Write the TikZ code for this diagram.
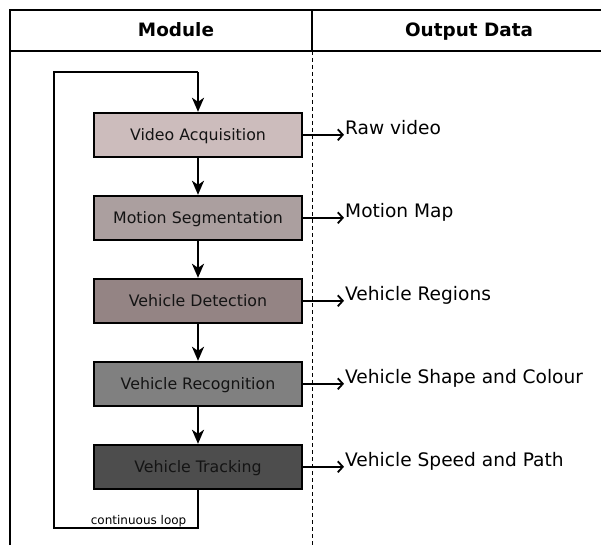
\documentclass[tikz,border=0pt]{standalone}
\usepackage{fontspec}
\setmainfont{DejaVu Sans}
\usetikzlibrary{arrows.meta}
\definecolor{fillA}{HTML}{CCBCBC}
\definecolor{fillB}{HTML}{AB9F9F}
\definecolor{fillC}{HTML}{948484}
\definecolor{fillD}{HTML}{808080}
\definecolor{fillE}{HTML}{4D4D4D}
\tikzset{
  module/.style={draw=black, line width=2pt, minimum width=208pt, minimum height=44pt,
    inner sep=0pt, text height=11.5pt, text depth=0pt,
    font=\fontsize{15.8}{18}\selectfont, text=black!92},
  flow/.style={line width=2pt, -{Stealth[length=14pt,width=12pt,inset=4pt]}},
  outarrow/.style={line width=1.8pt, -{Straight Barb[length=5pt,width=11pt]}},
  outlabel/.style={anchor=base west, inner sep=0pt, font=\fontsize{18.6}{22}\selectfont},
  header/.style={anchor=base, inner sep=0pt, font=\fontsize{18.4}{22}\selectfont\bfseries},
  frame/.style={line width=1.5pt},
}
\begin{document}
\begin{tikzpicture}[x=1pt,y=-1pt]
\useasboundingbox (0,0) rectangle (601,545);

% table frame
\draw[frame] (10,545) -- (10,10) -- (640,10);
\draw[frame] (10,51) -- (640,51);
\draw[frame] (312,10) -- (312,51);
\draw[line width=1pt, dash pattern=on 4pt off 3pt] (312,51) -- (312,545);

\node[header] (h1) at (176,36.8) {Module};
\node[header] (h2) at (469,36.8) {Output Data};

% modules
\node[module, fill=fillA] (m1) at (198,134.8) {Video Acquisition};
\node[module, fill=fillB] (m2) at (198,217.8) {Motion Segmentation};
\node[module, fill=fillC] (m3) at (198,300.8) {Vehicle Detection};
\node[module, fill=fillD] (m4) at (198,383.8) {Vehicle Recognition};
\node[module, fill=fillE] (m5) at (198,466.8) {Vehicle Tracking};

% continuous loop
\coordinate (lb) at (198,527.5);
\coordinate (ll) at (53.5,527.5);
\coordinate (lt) at (53.5,72.5);
\coordinate (lr) at (198,72.5);
\draw[line width=2pt] (m5.south) -- (lb) -- (ll) -- (lt) -- (lr);
\draw[flow] (lr) -- (m1.north);
\node[anchor=base east, inner sep=0pt, font=\fontsize{12}{14}\selectfont] (loop) at (186.5,524.5) {continuous loop};

\draw[flow] (m1) -- (m2);
\draw[flow] (m2) -- (m3);
\draw[flow] (m3) -- (m4);
\draw[flow] (m4) -- (m5);

% outputs
\foreach \m/\t in {m1/Raw video, m2/Motion Map, m3/Vehicle Regions,
                   m4/Vehicle Shape and Colour, m5/Vehicle Speed and Path}{
  \coordinate (\m o) at ([xshift=41pt]\m.east);
  \draw[outarrow] (\m.east) -- (\m o);
  \node[outlabel] (\m t) at ([xshift=1pt]\m o) {\t};
}
\end{tikzpicture}
\end{document}
